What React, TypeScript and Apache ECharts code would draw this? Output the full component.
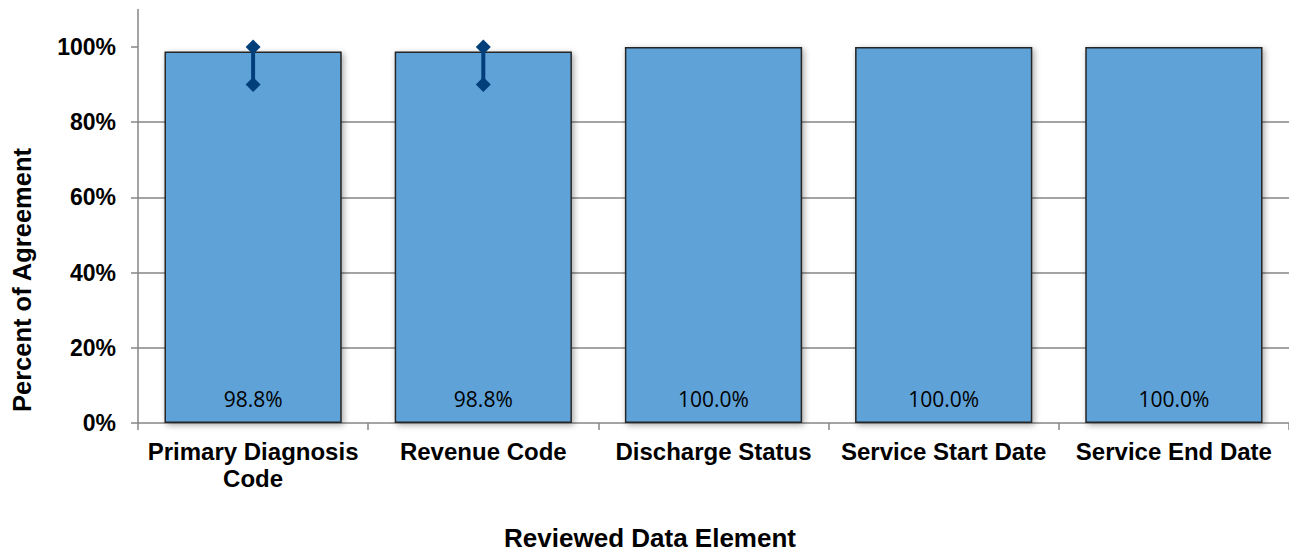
import React, { useEffect, useRef } from "react";
import * as echarts from "echarts";

const categories = [
  "Primary Diagnosis\nCode",
  "Revenue Code",
  "Discharge Status",
  "Service Start Date",
  "Service End Date",
];
const agreement = [98.8, 98.8, 100.0, 100.0, 100.0];
const errorLow = [90, 90, null, null, null];
const errorHigh = [100, 100, null, null, null];
const yTicks = [0, 20, 40, 60, 80, 100];
const xTitle = "Reviewed Data Element";
const yTitle = "Percent of Agreement";

const FONT = "Liberation Sans, Arial, sans-serif";

export default function App() {
  const ref = useRef<HTMLDivElement>(null);
  useEffect(() => {
    if (!ref.current) return;
    const chart = echarts.init(ref.current, null, { renderer: "svg" });
    const errData = categories
      .map((_, i) => [i, errorLow[i], errorHigh[i]])
      .filter((d) => d[1] != null);
    chart.setOption({
      animation: false,
      textStyle: { fontFamily: FONT },
      grid: { left: 138, right: 0, top: 9.4, bottom: 131, containLabel: false },
      graphic: [
        {
          type: "text",
          x: 650,
          y: 538,
          style: {
            text: xTitle,
            fill: "#000",
            font: `bold 26px ${FONT}`,
            textAlign: "center",
            textVerticalAlign: "middle",
          },
        },
        {
          type: "text",
          x: 22,
          y: 280,
          rotation: Math.PI / 2,
          style: {
            text: yTitle,
            fill: "#000",
            font: `bold 25.5px ${FONT}`,
            textAlign: "center",
            textVerticalAlign: "middle",
          },
        },
      ],
      xAxis: {
        type: "category",
        data: categories,
        axisLine: { lineStyle: { color: "#868686", width: 1.5 } },
        axisTick: { show: true, length: 7, lineStyle: { color: "#868686", width: 1.5 } },
        axisLabel: {
          color: "#000",
          fontWeight: "bold",
          fontSize: 24,
          lineHeight: 27,
          margin: 15,
          interval: 0,
        },
      },
      yAxis: {
        type: "value",
        min: 0,
        max: 110,
        interval: 20,
        axisLine: { show: true, lineStyle: { color: "#868686", width: 1.5 } },
        axisTick: {
          show: true,
          length: 7,
          customValues: yTicks,
          lineStyle: { color: "#868686", width: 1.5 },
        },
        axisLabel: {
          customValues: yTicks,
          formatter: (v: number) => `${v}%`,
          color: "#000",
          fontWeight: "bold",
          fontSize: 23,
          margin: 22,
        },
        splitLine: {
          show: true,
          showMinLine: false,
          showMaxLine: false,
          lineStyle: { color: "#868686", width: 1.5 },
        },
      },
      series: [
        {
          type: "bar",
          data: agreement,
          barWidth: "77%",
          z: 3,
          itemStyle: {
            color: "#5fa2d7",
            borderColor: "#262626",
            borderWidth: 1.5,
            shadowColor: "rgba(0,0,0,0.35)",
            shadowBlur: 6,
            shadowOffsetX: 2,
            shadowOffsetY: 2,
          },
          label: {
            show: true,
            position: "insideBottom",
            distance: 14,
            formatter: (p: any) => `${p.value.toFixed(1)}%`,
            color: "#000",
            fontSize: 21,
            fontFamily: "Open Sans, Liberation Sans, sans-serif",
          },
        },
        {
          type: "custom",
          z: 5,
          data: errData,
          renderItem: (params: any, api: any) => {
            const x = api.value(0);
            const lo = api.coord([x, api.value(1)]);
            const hi = api.coord([x, api.value(2)]);
            const s = 7.5;
            const diamond = (c: number[]) => ({
              type: "polygon",
              shape: {
                points: [
                  [c[0], c[1] - s],
                  [c[0] + s, c[1]],
                  [c[0], c[1] + s],
                  [c[0] - s, c[1]],
                ],
              },
              style: { fill: "#003f7a" },
            });
            return {
              type: "group",
              children: [
                {
                  type: "line",
                  shape: { x1: lo[0], y1: lo[1], x2: hi[0], y2: hi[1] },
                  style: { stroke: "#003f7a", lineWidth: 4 },
                },
                diamond(lo),
                diamond(hi),
              ],
            };
          },
        },
      ],
    });
    return () => chart.dispose();
  }, []);
  return (
    <div
      ref={ref}
      style={{ position: "fixed", left: 0, top: 0, width: 1289, height: 554, background: "#fff" }}
    />
  );
}
